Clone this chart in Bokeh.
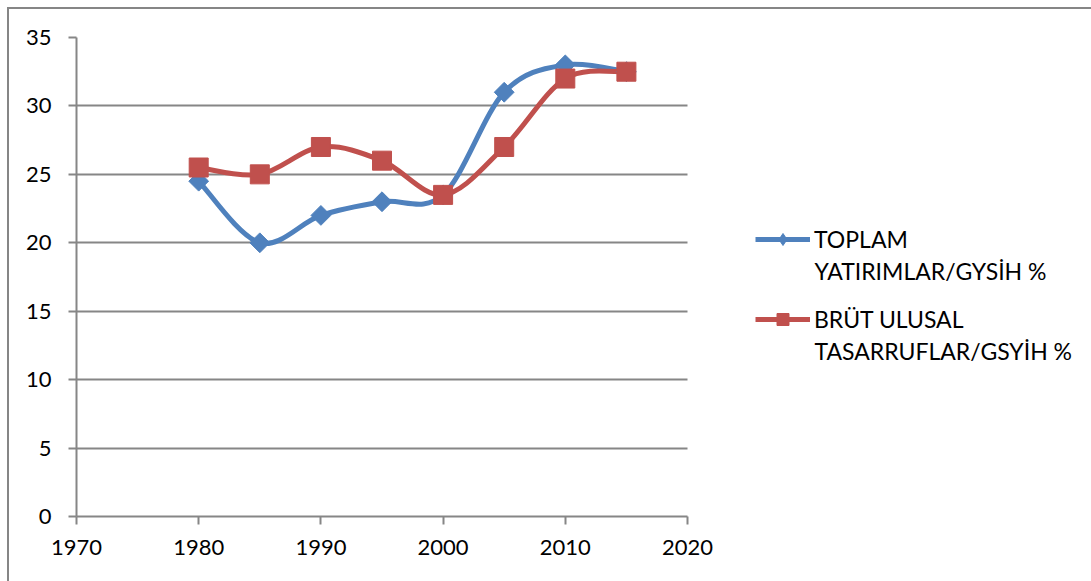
import numpy as np
from bokeh.plotting import figure
from bokeh.layouts import column
from bokeh.models import (ColumnDataSource, Legend, LegendItem, FixedTicker, Range1d, Label)
from bokeh.embed import file_html
from bokeh.resources import INLINE

# Years and series values (% of GDP)
years = [1980, 1985, 1990, 1995, 2000, 2005, 2010, 2015]
toplam_yatirimlar = [24.5, 20.0, 22.0, 23.0, 23.5, 31.0, 33.0, 32.5]
brut_tasarruflar = [25.5, 25.0, 27.0, 26.0, 23.5, 27.0, 32.0, 32.5]
series_names = [["TOPLAM", "YATIRIMLAR/GYSİH %"], ["BRÜT ULUSAL", "TASARRUFLAR/GSYİH %"]]
x_ticks = [1970, 1980, 1990, 2000, 2010, 2020]
y_ticks = [0, 5, 10, 15, 20, 25, 30, 35]

BLUE = "#4F81BD"
RED = "#C0504D"
GRID = "#868686"
FONT = "Lato"

# geometry (page pixels)
PAGE_W, PAGE_H = 1091, 581
EDGE = 9                      # outer border offset + width
PLOT_L, PLOT_R, PLOT_T, PLOT_B = 76, 687, 37, 516
X0, X1 = x_ticks[0], x_ticks[-1]
FIG_W, FIG_H = PAGE_W - EDGE, PAGE_H - EDGE
px_per_year = (PLOT_R - PLOT_L) / (X1 - X0)
x_end = X1 + (EDGE + FIG_W - PLOT_R) / px_per_year   # frame runs to the right edge

# legend layout (page pixels)
LEG_X, LEG_ROW1, LEG_ROW2, LINE_GAP = 755, 239, 319, 31
GLYPH_W, STANDOFF, ROW_H = 55, 4, 30


def smooth_segments(xs, ys):
    """Catmull-Rom style cubic Bezier segments through the points."""
    xs = np.asarray(xs, float)
    ys = np.asarray(ys, float)
    n = len(xs)
    seg = dict(x0=[], y0=[], x1=[], y1=[], cx0=[], cy0=[], cx1=[], cy1=[])
    for i in range(n - 1):
        p0 = i - 1 if i > 0 else i
        p3 = i + 2 if i + 2 < n else i + 1
        seg["x0"].append(xs[i]); seg["y0"].append(ys[i])
        seg["x1"].append(xs[i + 1]); seg["y1"].append(ys[i + 1])
        seg["cx0"].append(xs[i] + (xs[i + 1] - xs[p0]) / 6)
        seg["cy0"].append(ys[i] + (ys[i + 1] - ys[p0]) / 6)
        seg["cx1"].append(xs[i + 1] - (xs[p3] - xs[i]) / 6)
        seg["cy1"].append(ys[i + 1] - (ys[p3] - ys[i]) / 6)
    return ColumnDataSource(seg)


p = figure(width=FIG_W, height=FIG_H, output_backend="svg",
           toolbar_location=None,
           x_range=Range1d(X0, x_end), y_range=Range1d(0, 35),
           min_border_left=PLOT_L - EDGE, min_border_right=0,
           min_border_top=PLOT_T - EDGE, min_border_bottom=EDGE + FIG_H - PLOT_B)
p.outline_line_color = None
p.background_fill_color = "white"
p.border_fill_color = "white"

# axes
for ax in (p.xaxis[0], p.yaxis[0]):
    ax.axis_line_color = GRID
    ax.axis_line_width = 2
    ax.major_tick_line_color = GRID
    ax.major_tick_line_width = 2
    ax.major_tick_in = 0
    ax.major_tick_out = 8
    ax.minor_tick_line_color = None
    ax.major_label_text_font = FONT
    ax.major_label_text_font_size = "22px"
    ax.major_label_text_color = "black"
p.xaxis.ticker = FixedTicker(ticks=x_ticks)
p.yaxis.ticker = FixedTicker(ticks=y_ticks)
p.xaxis.bounds = (X0, X1)
p.xaxis.major_label_standoff = 15
p.yaxis.major_label_standoff = 17

p.xgrid.grid_line_color = None
p.ygrid.grid_line_color = GRID
p.ygrid.grid_line_width = 2
p.ygrid.ticker = FixedTicker(ticks=y_ticks)
p.ygrid.cross_bounds = (X0, X1)

# smoothed lines
p.bezier("x0", "y0", "x1", "y1", "cx0", "cy0", "cx1", "cy1",
         source=smooth_segments(years, toplam_yatirimlar),
         line_color=BLUE, line_width=5)
p.bezier("x0", "y0", "x1", "y1", "cx0", "cy0", "cx1", "cy1",
         source=smooth_segments(years, brut_tasarruflar),
         line_color=RED, line_width=5)

# markers
p.scatter(years, toplam_yatirimlar, marker="square", angle=np.pi / 4, size=14,
          fill_color=BLUE, line_color=BLUE)
p.scatter(years, brut_tasarruflar, marker="square", size=19,
          fill_color=RED, line_color=RED)

# legend entries (styled proxies)
nan = dict(x=[np.nan], y=[np.nan])
lb = p.line("x", "y", source=ColumnDataSource(nan), line_color=BLUE, line_width=5)
mb = p.scatter("x", "y", source=ColumnDataSource(nan), marker="diamond",
               size=15, fill_color=BLUE, line_color=BLUE)
lr = p.line("x", "y", source=ColumnDataSource(nan), line_color=RED, line_width=5)
mr = p.scatter("x", "y", source=ColumnDataSource(nan), marker="square",
               size=16, fill_color=RED, line_color=RED)

legend = Legend(items=[LegendItem(label=series_names[0][0], renderers=[lb, mb]),
                       LegendItem(label=series_names[1][0], renderers=[lr, mr])],
                location=(LEG_X - PLOT_L, PLOT_B - (LEG_ROW2 + ROW_H // 2)))
legend.border_line_color = None
legend.background_fill_alpha = 0
legend.label_text_font = FONT
legend.label_text_font_size = "23px"
legend.label_text_color = "black"
legend.glyph_width = GLYPH_W
legend.glyph_height = ROW_H
legend.label_height = ROW_H
legend.label_standoff = STANDOFF
legend.spacing = LEG_ROW2 - LEG_ROW1 - ROW_H
legend.padding = 0
legend.margin = 0
p.add_layout(legend, "center")

# second line of each legend label
for row, names in zip((LEG_ROW1, LEG_ROW2), series_names):
    p.add_layout(Label(x=LEG_X + GLYPH_W + STANDOFF - PLOT_L, y=PLOT_B - (row + LINE_GAP),
                       x_units="screen", y_units="screen", text=names[1],
                       text_font=FONT, text_font_size="23px", text_color="black",
                       text_baseline="middle", text_align="left"))

# outer chart border: top and left edges only
layout = column(p, styles={"margin-left": "7px", "margin-top": "7px",
                           "border-left": f"2px solid {GRID}",
                           "border-top": f"2px solid {GRID}"})

open("out.html", "w").write(file_html(layout, INLINE))
